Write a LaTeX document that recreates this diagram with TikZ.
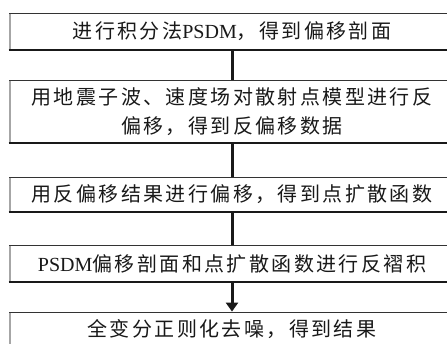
\documentclass[tikz,border=0pt]{standalone}
\usepackage{fontspec}
\newfontfamily\cjk{Noto Sans CJK SC}[LetterSpace=12]
\newfontfamily\lat{Liberation Serif}
\usetikzlibrary{arrows.meta}
\begin{document}
\begin{tikzpicture}[x=1pt,y=-1pt,
  box/.style={draw=black!80, line width=0.8pt, minimum width=446pt, inner sep=0pt,
    font=\fontsize{20}{29}\selectfont\cjk, text=black!90, align=center},
  conn/.style={line width=3pt, black!90},
  shadeline/.style={line width=2.2pt, black!90},
  leftstrip/.style={line width=1.4pt, black!35}]
\useasboundingbox (0,0) rectangle (447,344);
\fill[white] (0,0) rectangle (447,344);
\node[box, minimum height=37pt] (b1) at (232,31.5) {进行积分法{\lat PSDM}，得到偏移剖面};
\node[box, minimum height=63pt] (b2) at (232,111.5) {用地震子波、速度场对散射点模型进行反\\偏移，得到反偏移数据};
\node[box, minimum height=35pt] (b3) at (232,194.5) {用反偏移结果进行偏移，得到点扩散函数};
\node[box, minimum height=37pt] (b4) at (232,263.5) {{\lat PSDM}偏移剖面和点扩散函数进行反褶积};
\node[box, minimum height=34pt] (b5) at (232,329) {全变分正则化去噪，得到结果};
\foreach \b in {b1,b2,b3,b4,b5}{
  \draw[shadeline] (\b.south west) -- (\b.south east);
  \draw[leftstrip] ([xshift=1.5pt,yshift=-1pt]\b.north west) -- ([xshift=1.5pt,yshift=1pt]\b.south west);
}
\draw[conn] (b1.south) -- (b2.north);
\draw[conn] (b2.south) -- (b3.north);
\draw[conn] (b3.south) -- (b4.north);
\draw[conn, -{Triangle[width=12pt,length=9pt]}] (b4.south) -- (b5.north);
\end{tikzpicture}
\end{document}
